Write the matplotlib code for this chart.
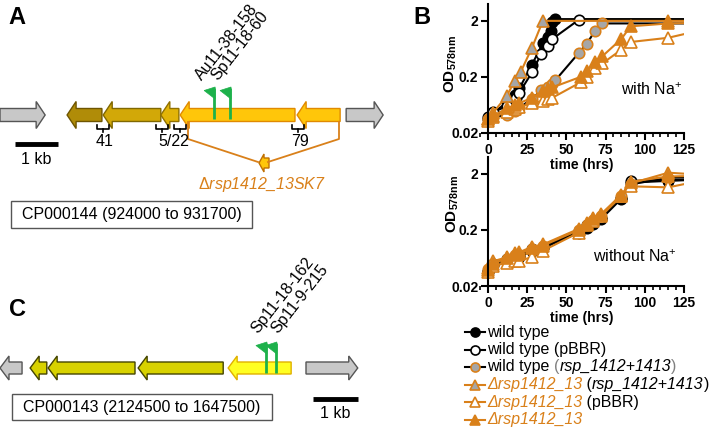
import matplotlib
matplotlib.use('Agg')
import matplotlib.pyplot as plt
from matplotlib.patches import Polygon, Rectangle
from matplotlib.ticker import MultipleLocator, NullLocator, FixedLocator, FixedFormatter

plt.rcParams['font.family'] = ['Liberation Sans', 'DejaVu Sans']
plt.rcParams['mathtext.fontset'] = 'custom'
plt.rcParams['mathtext.rm'] = 'Liberation Sans'
plt.rcParams['mathtext.it'] = 'Liberation Sans:italic'
plt.rcParams['mathtext.bf'] = 'Liberation Sans:bold'

ORANGE = '#D9801A'
GREEN = '#1DB14B'
GREYFACE = '#A6A6A6'

# ---- growth curves, with Na+ (hours, OD578) ----
t_wt = [0, 3, 12, 17, 20, 28, 35, 38, 40, 41, 43, 140]
od_wt = [0.036, 0.045, 0.07, 0.095, 0.125, 0.33, 0.8, 1.05, 1.3, 1.9, 2.15, 2.15]
t_wt_pbbr = [0, 3, 12, 18, 20, 28, 34, 38, 41, 58, 140]
od_wt_pbbr = [0.038, 0.047, 0.06, 0.085, 0.105, 0.24, 0.52, 0.7, 0.95, 2.1, 2.1]
t_wt_rsp = [0, 3, 12, 17, 20, 28, 34, 38, 41, 43, 58, 63, 68, 73, 140]
od_wt_rsp = [0.035, 0.038, 0.042, 0.05, 0.056, 0.082, 0.115, 0.13, 0.15, 0.175, 0.54, 0.78, 1.3, 1.8, 1.8]
t_d_rsp = [0, 3, 12, 17, 21, 28, 35, 115, 140]
od_d_rsp = [0.036, 0.045, 0.092, 0.17, 0.25, 0.66, 2.0, 2.0, 2.0]
t_d_pbbr = [0, 3, 12, 17, 20, 28, 35, 38, 41, 59, 63, 68, 73, 85, 91, 115, 140]
od_d_pbbr = [0.033, 0.038, 0.048, 0.053, 0.058, 0.068, 0.075, 0.08, 0.085, 0.16, 0.2, 0.29, 0.35, 0.61, 0.84, 1.0, 1.45]
t_d = [0, 3, 12, 17, 20, 28, 35, 38, 41, 59, 63, 68, 73, 85, 91, 115, 140]
od_d = [0.035, 0.04, 0.055, 0.062, 0.068, 0.085, 0.11, 0.12, 0.13, 0.2, 0.26, 0.37, 0.47, 0.95, 1.6, 1.8, 1.85]

# ---- growth curves, without Na+ ----
t_no = [0, 3, 12, 17, 20, 28, 35, 58, 63, 67, 72, 85, 91, 115, 140]
od_no_wt = [0.037, 0.047, 0.058, 0.064, 0.066, 0.085, 0.095, 0.18, 0.22, 0.26, 0.31, 0.72, 1.4, 1.5, 1.6]
od_no_wt_pbbr = [0.036, 0.05, 0.06, 0.066, 0.07, 0.09, 0.1, 0.19, 0.24, 0.28, 0.33, 0.75, 1.5, 1.55, 1.65]
od_no_wt_rsp = [0.04, 0.05, 0.06, 0.07, 0.072, 0.092, 0.105, 0.2, 0.25, 0.3, 0.36, 0.8, 1.3, 1.7, 1.8]
od_no_d_rsp = [0.042, 0.055, 0.065, 0.078, 0.08, 0.1, 0.11, 0.21, 0.27, 0.32, 0.38, 0.85, 1.35, 2.1, 1.9]
od_no_d_pbbr = [0.035, 0.045, 0.052, 0.056, 0.057, 0.065, 0.085, 0.18, 0.24, 0.29, 0.35, 0.8, 1.2, 1.15, 1.6]
od_no_d = [0.038, 0.05, 0.062, 0.072, 0.075, 0.095, 0.105, 0.2, 0.26, 0.31, 0.37, 0.82, 1.45, 1.8, 1.85]

# ---- gene maps (kb) ----
a_start = [0.0, 1.56, 2.40, 3.74, 4.19, 6.91, 8.05]
a_end = [1.05, 2.37, 3.74, 4.16, 6.86, 7.91, 8.91]
a_dir = [1, -1, -1, -1, -1, -1, 1]
a_fc = ['#C8C8C8', '#B08C08', '#D2A808', '#E2B408', '#FFC60A', '#FFC60A', '#C8C8C8']
a_ec = ['#555555', '#6E5500', '#806800', '#907000', '#E08A00', '#E08A00', '#555555']
a_tn = [4.98, 5.35]
a_tn_labels = ['Au11-38-158', 'Sp11-18-60']
a_brace = [2.40, 3.77, 4.19, 6.93]

c_start = [0.0, 0.67, 1.07, 3.07, 5.07, 6.8]
c_end = [0.49, 1.04, 3.0, 4.96, 6.47, 7.95]
c_dir = [-1, -1, -1, -1, -1, 1]
c_fc = ['#C8C8C8', '#D8D200', '#D8D200', '#D8D200', '#FFFF22', '#C8C8C8']
c_ec = ['#555555', '#444400', '#444400', '#444400', '#E0B000', '#555555']
c_tn = [5.91, 6.13]
c_tn_labels = ['Sp11-18-162', 'Sp11-9-215']

fig = plt.figure(figsize=(7.17, 4.29), dpi=100)

# overlay in pixel coordinates for diagrams, legend, labels
ov = fig.add_axes([0, 0, 1, 1])
ov.set_xlim(0, 717)
ov.set_ylim(429, 0)
ov.axis('off')
ov.patch.set_alpha(0)


def gene(x0, x1, yc, d, fc, ec, body, head, hl=9):
    hl = min(hl, (x1 - x0) * 0.55)
    if d < 0:
        pts = [(x0, yc), (x0 + hl, yc - head), (x0 + hl, yc - body), (x1, yc - body),
               (x1, yc + body), (x0 + hl, yc + body), (x0 + hl, yc + head)]
    else:
        pts = [(x1, yc), (x1 - hl, yc - head), (x1 - hl, yc - body), (x0, yc - body),
               (x0, yc + body), (x1 - hl, yc + body), (x1 - hl, yc + head)]
    ov.add_patch(Polygon(pts, closed=True, fc=fc, ec=ec, lw=1, joinstyle='miter'))


def flag(x, top, bottom):
    ov.plot([x, x], [top, bottom], color=GREEN, lw=2, solid_capstyle='butt', zorder=5)
    ov.add_patch(Polygon([(x + 1, top - 1), (x - 10, top + 2.5), (x + 1, top + 11)],
                         closed=True, fc=GREEN, ec=GREEN, lw=0.5, zorder=5))


# ---------------- panel A ----------------
KA = 43.0
YA = 115
for s, e, d, fc, ec in zip(a_start, a_end, a_dir, a_fc, a_ec):
    gene(s * KA, e * KA, YA, d, fc, ec, 6.5, 13.5)
for p, lab in zip(a_tn, a_tn_labels):
    x = p * KA
    flag(x, 88, 119)
    ov.text(x - 12, 81, lab, rotation=52, rotation_mode='anchor',
            ha='left', va='baseline', fontsize=11.5)
for p in a_brace:
    x = p * KA
    ov.plot([x - 6, x - 6, x + 6, x + 6], [125, 128.5, 128.5, 125], color='black', lw=1.2)
    ov.plot([x, x], [128.5, 132], color='black', lw=1.2)
for p, lab in zip([2.43, 4.05, 6.98], ['41', '5/22', '79']):
    ov.text(p * KA, 142, lab, ha='center', va='center', fontsize=11.5)
# deletion construct
ov.plot([188, 188, 258], [122, 139, 162], color=ORANGE, lw=1.3)
ov.plot([339, 339, 268], [122, 139, 162], color=ORANGE, lw=1.3)
gene(259, 269, 163, -1, '#FFC60A', '#C07000', 5, 9, hl=5)
ov.text(262, 185, r'$\Delta$rsp1412_13SK7', ha='center', va='center', fontsize=11.5,
        color=ORANGE, style='italic')
# scale bar
ov.plot([15, 58], [144, 144], color='black', lw=3.5, solid_capstyle='butt')
ov.text(36.5, 160, '1 kb', ha='center', va='center', fontsize=11.5)
ov.add_patch(Rectangle((11, 201), 241, 27, fc='white', ec='#555555', lw=1))
ov.text(131.5, 214.5, 'CP000144 (924000 to 931700)', ha='center', va='center', fontsize=11.5)
ov.text(17, 18, 'A', ha='center', va='center', fontsize=17, fontweight='bold')

# ---------------- panel C ----------------
KC = 45.0
YC = 368
for s, e, d, fc, ec in zip(c_start, c_end, c_dir, c_fc, c_ec):
    gene(s * KC, e * KC, YC, d, fc, ec, 6, 12)
for i, (p, lab) in enumerate(zip(c_tn, c_tn_labels)):
    x = p * KC
    flag(x, 343, 373)
    ov.text(258 + 20 * i, 334, lab, rotation=52, rotation_mode='anchor',
            ha='left', va='baseline', fontsize=11.5)
ov.plot([313, 358], [399, 399], color='black', lw=3.5, solid_capstyle='butt')
ov.text(335.5, 414, '1 kb', ha='center', va='center', fontsize=11.5)
ov.add_patch(Rectangle((12, 394), 260, 26, fc='white', ec='#555555', lw=1))
ov.text(142, 407.5, 'CP000143 (2124500 to 1647500)', ha='center', va='center', fontsize=11.5)
ov.text(17, 309, 'C', ha='center', va='center', fontsize=17, fontweight='bold')

# ---------------- panel B ----------------
ov.text(422, 17, 'B', ha='center', va='center', fontsize=17, fontweight='bold')

styles = [
    dict(color='black', marker='o', mfc='black', mec='black', ms=7.5),
    dict(color='black', marker='o', mfc='white', mec='black', ms=7.5),
    dict(color='black', marker='o', mfc=GREYFACE, mec=ORANGE, ms=7.5),
    dict(color=ORANGE, marker='^', mfc=GREYFACE, mec=ORANGE, ms=8),
    dict(color=ORANGE, marker='^', mfc='white', mec=ORANGE, ms=8),
    dict(color=ORANGE, marker='^', mfc=ORANGE, mec=ORANGE, ms=8),
]

with_na = [(t_wt, od_wt), (t_wt_pbbr, od_wt_pbbr), (t_wt_rsp, od_wt_rsp),
           (t_d_rsp, od_d_rsp), (t_d_pbbr, od_d_pbbr), (t_d, od_d)]
without_na = [(t_no, od_no_wt), (t_no, od_no_wt_pbbr), (t_no, od_no_wt_rsp),
              (t_no, od_no_d_rsp), (t_no, od_no_d_pbbr), (t_no, od_no_d)]

PX_PER_H = 196 / 125.0
X0 = 488


def growth_axes(bottom_px, series):
    left_px = X0 - 6 * PX_PER_H
    ax = fig.add_axes([left_px / 717, 1 - bottom_px / 429, (684 - left_px) / 717, 129 / 429])
    ax.set_facecolor('none')
    for (t, od), st in zip(series, styles):
        ax.plot(t, od, lw=1.5, mew=1.2, **st)
    ax.set_yscale('log')
    ax.set_xlim(-6, 125)
    ax.set_ylim(0.02, 4)
    for side in ['top', 'right']:
        ax.spines[side].set_visible(False)
    ax.spines['left'].set_position(('data', 0))
    ax.spines['bottom'].set_bounds(0, 125)
    for side in ['left', 'bottom']:
        ax.spines[side].set_linewidth(1.5)
    ax.xaxis.set_major_locator(FixedLocator([0, 25, 50, 75, 100, 125]))
    ax.xaxis.set_minor_locator(MultipleLocator(5))
    ax.yaxis.set_major_locator(FixedLocator([0.02, 0.2, 2]))
    ax.yaxis.set_major_formatter(FixedFormatter(['0.02', '0.2', '2']))
    ax.yaxis.set_minor_locator(NullLocator())
    ax.tick_params(which='major', length=5, width=1.5, labelsize=10, pad=2)
    ax.tick_params(which='minor', length=3, width=1.2)
    for lab in ax.get_xticklabels() + ax.get_yticklabels():
        lab.set_fontweight('bold')
    ax.set_xlabel('time (hrs)', fontsize=10, fontweight='bold', labelpad=1)
    return ax


ax1 = growth_axes(133, with_na)
ax2 = growth_axes(286, without_na)

ov.text(451, 64, r'$\mathbf{OD}_{\mathbf{578nm}}$', rotation=90, ha='center', va='center', fontsize=11)
ov.text(453, 204, r'$\mathbf{OD}_{\mathbf{578nm}}$', rotation=90, ha='center', va='center', fontsize=11)
ov.text(652, 90, r'with Na$^{+}$', ha='center', va='center', fontsize=11.5)
ov.text(635, 257, r'without Na$^{+}$', ha='center', va='center', fontsize=11.5)

# ---------------- legend ----------------
renderer = fig.canvas.get_renderer()


def rich(x, y, parts):
    for s, kw in parts:
        t = ov.text(x, y, s, ha='left', va='center', fontsize=11.5, **kw)
        bb = t.get_window_extent(renderer=renderer)
        x += bb.width


blk = dict(color='black')
ita = dict(color='black', style='italic')
gry = dict(color='#808080')
ora = dict(color=ORANGE, style='italic')
legend_rows = [
    [('wild type', blk)],
    [('wild type (pBBR)', blk)],
    [('wild type ', blk), ('(', gry), ('rsp_1412+1413', ita), (')', gry)],
    [('\u0394rsp1412_13', ora), (' (', blk), ('rsp_1412+1413', ita), (')', blk)],
    [('\u0394rsp1412_13', ora), (' (pBBR)', blk)],
    [('\u0394rsp1412_13', ora)],
]
row_y = [332, 349.5, 367, 384.5, 402, 419.5]
for y, parts, st in zip(row_y, legend_rows, styles):
    st2 = dict(st)
    mk = st2.pop('marker')
    ov.plot([465, 485], [y, y], color=st2['color'], lw=1.5)
    ov.plot([475], [y], marker=mk, mfc=st2['mfc'], mec=st2['mec'], ms=st2['ms'] - 1, mew=1.2,
            linestyle='none')
    rich(487, y, parts)

fig.savefig('out.png', dpi=100)
